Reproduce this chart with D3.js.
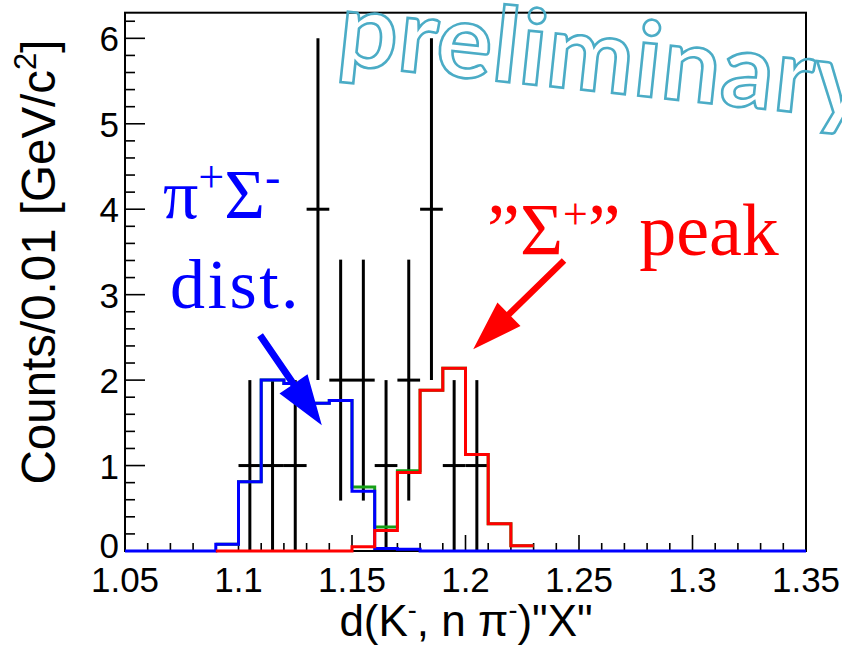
<!DOCTYPE html>
<html>
<head>
<meta charset="utf-8">
<script src="https://cdn.jsdelivr.net/npm/d3@7"></script>
<style>
  html, body { margin: 0; padding: 0; background: #fff; }
  svg { display: block; }
</style>
</head>
<body>
<svg id="chart" width="842" height="648"></svg>
<script>
// ---------------- data ----------------
const binWidth = 0.01;
const blueStart = 1.05;   // pi+ Sigma- distribution
const blueValues = [0, 0, 0, 0, 0.08, 0.81, 2.00, 1.96, 1.73, 1.76, 0.70, 0.03, 0.02,
                    0, 0, 0, 0, 0, 0, 0, 0, 0, 0, 0, 0, 0, 0, 0, 0, 0];
const redStart = 1.09;    // "Sigma+" peak
const redValues = [0, 0, 0, 0, 0, 0, 0.05, 0.24, 0.92, 1.88, 2.14, 1.13, 0.32, 0.06];
const greenStart = 1.09;  // sum
const greenValues = [0.08, 0.81, 2.00, 1.96, 1.73, 1.76, 0.75, 0.28, 0.94, 1.88, 2.14, 1.13, 0.32, 0.06];

const dataX   = [1.105, 1.115, 1.125, 1.135, 1.145, 1.155, 1.165, 1.175, 1.185, 1.195, 1.205];
const dataY   = [1, 1, 1, 4, 2, 2, 1, 2, 4, 1, 1];
const dataErr = [1, 1, 1, 2, 1.41, 1.41, 1, 1.41, 2, 1, 1];

const xTicks = [1.05, 1.1, 1.15, 1.2, 1.25, 1.3, 1.35];
const xTickLabels = ["1.05", "1.1", "1.15", "1.2", "1.25", "1.3", "1.35"];
const yTicks = [0, 1, 2, 3, 4, 5, 6];
const yTickLabels = ["0", "1", "2", "3", "4", "5", "6"];

// annotation anchors in data units
const blueArrow = { x1: 1.1095, y1: 2.525, x2: 1.1367, y2: 1.473 };
const redArrow  = { x1: 1.2434, y1: 3.40,  x2: 1.2034, y2: 2.361 };
const blueLabel1 = { x: 1.0667, y: 3.90 };
const blueLabel2 = { x: 1.0698, y: 2.84 };
const redLabel   = { x: 1.2095, y: 3.46 };

// ---------------- layout ----------------
const W = 842, H = 648;
const m = { left: 125, top: 12.7, right: 36, bottom: 97 };
const svg = d3.select("#chart");

const x = d3.scaleLinear().domain([1.05, 1.35]).range([m.left, W - m.right]);
const y = d3.scaleLinear().domain([0, 6.3]).range([H - m.bottom, m.top]);

const sans = "'Liberation Sans', Arial, Helvetica, sans-serif";
const serif = "'Liberation Serif', 'Times New Roman', serif";

// frame
svg.append("rect")
  .attr("x", m.left).attr("y", m.top)
  .attr("width", W - m.left - m.right).attr("height", H - m.top - m.bottom)
  .attr("fill", "none").attr("stroke", "#000").attr("stroke-width", 2);

// x ticks (inward)
const xMinor = d3.range(0, 31).map(i => 1.05 + i * 0.01);
svg.append("g").selectAll("line").data(xMinor).join("line")
  .attr("x1", d => x(d)).attr("x2", d => x(d))
  .attr("y1", y(0)).attr("y2", (d, i) => y(0) - (i % 5 === 0 ? 16 : 8))
  .attr("stroke", "#000").attr("stroke-width", 1.6);

// y ticks (inward)
const yMinor = d3.range(0, 32).map(i => i * 0.2);
svg.append("g").selectAll("line").data(yMinor).join("line")
  .attr("y1", d => y(d)).attr("y2", d => y(d))
  .attr("x1", x(1.05)).attr("x2", (d, i) => x(1.05) + (i % 5 === 0 ? 20 : 10))
  .attr("stroke", "#000").attr("stroke-width", 1.6);

// tick labels
svg.append("g").selectAll("text").data(xTicks).join("text")
  .attr("x", d => x(d)).attr("y", 592)
  .attr("text-anchor", "middle")
  .attr("font-family", sans).attr("font-size", 35)
  .text((d, i) => xTickLabels[i]);

svg.append("g").selectAll("text").data(yTicks).join("text")
  .attr("x", 119).attr("y", (d, i) => y(d) + 13 - (i === 0 ? 6 : 0))
  .attr("text-anchor", "end")
  .attr("font-family", sans).attr("font-size", 35)
  .text((d, i) => yTickLabels[i]);

// axis titles
const xt = svg.append("text")
  .attr("x", 466).attr("y", 636)
  .attr("text-anchor", "middle")
  .attr("font-family", sans).attr("font-size", 44);
xt.append("tspan").text("d(K");
xt.append("tspan").attr("dy", -17).attr("font-size", 27).text("-");
xt.append("tspan").attr("dy", 17).text(", n \u03C0");
xt.append("tspan").attr("dy", -17).attr("font-size", 27).text("-");
xt.append("tspan").attr("dy", 17).text(")\"X\"");

const yt = svg.append("text")
  .attr("transform", "translate(55,262) rotate(-90)")
  .attr("text-anchor", "middle")
  .attr("font-family", sans).attr("font-size", 47.5);
yt.append("tspan").text("Counts/0.01 [GeV/c");
yt.append("tspan").attr("dy", -19).attr("font-size", 31).text("2");
yt.append("tspan").attr("dy", 19).text("]");

// ---------------- data points ----------------
const gData = svg.append("g").attr("stroke", "#000").attr("stroke-width", 3);
gData.selectAll("line.v").data(dataX).join("line").attr("class", "v")
  .attr("x1", d => x(d)).attr("x2", d => x(d))
  .attr("y1", (d, i) => y(Math.max(0, dataY[i] - dataErr[i])))
  .attr("y2", (d, i) => y(dataY[i] + dataErr[i]));
gData.selectAll("line.h").data(dataX).join("line").attr("class", "h")
  .attr("x1", d => x(d - binWidth / 2)).attr("x2", d => x(d + binWidth / 2))
  .attr("y1", (d, i) => y(dataY[i])).attr("y2", (d, i) => y(dataY[i]));

// ---------------- histograms ----------------
const stepLine = d3.line().x(d => x(d[0])).y(d => y(d[1])).curve(d3.curveStepAfter);
function histPoints(start, vals) {
  const pts = vals.map((v, i) => [start + i * binWidth, v]);
  pts.push([start + vals.length * binWidth, vals[vals.length - 1]]);
  return pts;
}
function drawHist(start, vals, color) {
  svg.append("path")
    .attr("d", stepLine(histPoints(start, vals)))
    .attr("fill", "none").attr("stroke", color).attr("stroke-width", 3)
    .attr("stroke-linejoin", "miter");
}
drawHist(greenStart, greenValues, "#16a016");
drawHist(blueStart, blueValues, "#0000ff");
drawHist(redStart, redValues, "#ff0000");

// ---------------- arrows ----------------
function arrow(a, color, shaftHalf, headLen, headHalf) {
  const T = [x(a.x1), y(a.y1)], P = [x(a.x2), y(a.y2)];
  const dx = P[0] - T[0], dy = P[1] - T[1], L = Math.hypot(dx, dy);
  const u = [dx / L, dy / L], n = [-u[1], u[0]];
  const B = [P[0] - u[0] * headLen, P[1] - u[1] * headLen];
  const pt = (p, k) => [p[0] + n[0] * k, p[1] + n[1] * k];
  const poly = [pt(T, shaftHalf), pt(B, shaftHalf), pt(B, headHalf), P,
                pt(B, -headHalf), pt(B, -shaftHalf), pt(T, -shaftHalf)];
  svg.append("polygon").attr("points", poly.map(p => p.join(",")).join(" "))
    .attr("fill", color);
}
arrow(blueArrow, "#0000ff", 3.5, 50, 17);
arrow(redArrow, "#ff0000", 3.2, 50, 16.5);

// ---------------- annotation text ----------------
const b1 = svg.append("text")
  .attr("x", x(blueLabel1.x)).attr("y", y(blueLabel1.y))
  .attr("font-family", serif).attr("font-size", 70).attr("fill", "#0000ff");
b1.append("tspan").text("\u03C0");
b1.append("tspan").attr("dy", -26).attr("font-size", 46).text("+");
b1.append("tspan").attr("dy", 26).text("\u03A3");
b1.append("tspan").attr("dy", -26).attr("font-size", 46).text("-");

svg.append("text")
  .attr("x", x(blueLabel2.x)).attr("y", y(blueLabel2.y))
  .attr("font-family", serif).attr("font-size", 70).attr("fill", "#0000ff")
  .attr("letter-spacing", 2.5)
  .text("dist.");

const r1 = svg.append("text")
  .attr("x", x(redLabel.x)).attr("y", y(redLabel.y))
  .attr("font-family", serif).attr("font-size", 74).attr("fill", "#ff0000");
r1.append("tspan").text("\u201D\u03A3");
r1.append("tspan").attr("dy", -26).attr("font-size", 44).text("+");
r1.append("tspan").attr("dy", 26).text("\u201D peak");

// ---------------- watermark ----------------
svg.append("text")
  .attr("transform", "translate(336,64) rotate(6)")
  .attr("font-family", "Lato, 'DejaVu Sans', sans-serif").attr("font-size", 104)
  .attr("font-style", "normal").attr("font-weight", 700)
  .attr("letter-spacing", 1)
  .attr("fill", "none").attr("stroke", "#4bacc6").attr("stroke-width", 2.6)
  .text("preliminary");
</script>
</body>
</html>
